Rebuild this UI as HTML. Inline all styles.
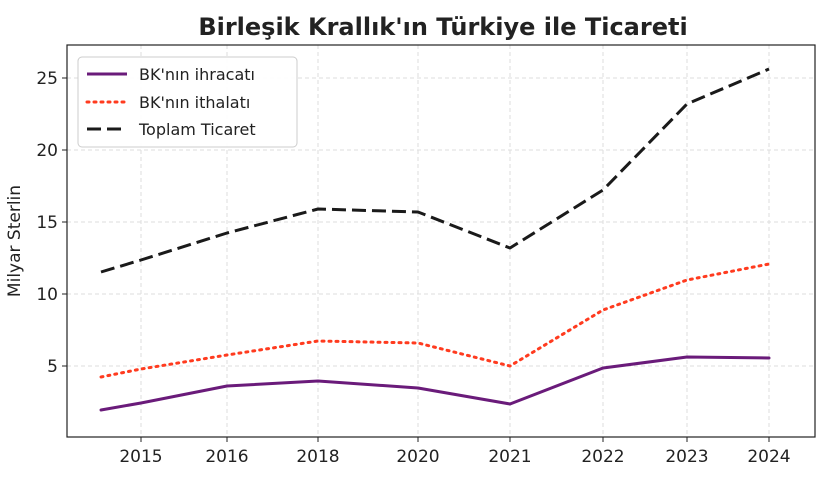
<!DOCTYPE html>
<html><head><meta charset="utf-8"><style>
html,body{margin:0;padding:0;background:#fff;}
svg{display:block;font-family:"DejaVu Sans","Liberation Sans",sans-serif;}
</style></head><body>
<svg width="823" height="477" viewBox="0 0 823 477" xmlns="http://www.w3.org/2000/svg">
<rect width="823" height="477" fill="#fff"/>
<text x="443" y="35" text-anchor="middle" font-size="24" font-weight="bold" fill="#222">Birleşik Krallık'ın Türkiye ile Ticareti</text>
<g stroke="#ddd" stroke-dasharray="4,3" stroke-width="1">
<line x1="141" y1="45" x2="141" y2="437"/><line x1="227" y1="45" x2="227" y2="437"/>
<line x1="318" y1="45" x2="318" y2="437"/><line x1="418" y1="45" x2="418" y2="437"/>
<line x1="510" y1="45" x2="510" y2="437"/><line x1="603" y1="45" x2="603" y2="437"/>
<line x1="687" y1="45" x2="687" y2="437"/><line x1="769" y1="45" x2="769" y2="437"/>
<line x1="67" y1="78" x2="815" y2="78"/><line x1="67" y1="150" x2="815" y2="150"/>
<line x1="67" y1="222" x2="815" y2="222"/><line x1="67" y1="294" x2="815" y2="294"/>
<line x1="67" y1="366" x2="815" y2="366"/>
</g>
<rect x="67" y="45" width="748" height="392" fill="none" stroke="#222" stroke-width="1.2"/>
<g stroke="#222" stroke-width="1">
<line x1="62" y1="78" x2="67" y2="78"/><line x1="62" y1="150" x2="67" y2="150"/><line x1="62" y1="222" x2="67" y2="222"/><line x1="62" y1="294" x2="67" y2="294"/><line x1="62" y1="366" x2="67" y2="366"/>
<line x1="141" y1="437" x2="141" y2="442"/><line x1="227" y1="437" x2="227" y2="442"/><line x1="318" y1="437" x2="318" y2="442"/><line x1="418" y1="437" x2="418" y2="442"/><line x1="510" y1="437" x2="510" y2="442"/><line x1="603" y1="437" x2="603" y2="442"/><line x1="687" y1="437" x2="687" y2="442"/><line x1="769" y1="437" x2="769" y2="442"/>
</g>
<g font-size="17" fill="#222" text-anchor="end">
<text x="58" y="84">25</text><text x="58" y="156">20</text><text x="58" y="228">15</text><text x="58" y="300">10</text><text x="58" y="372">5</text>
</g>
<g font-size="17" fill="#222" text-anchor="middle">
<text x="141" y="462">2015</text><text x="227" y="462">2016</text><text x="318" y="462">2018</text><text x="418" y="462">2020</text><text x="510" y="462">2021</text><text x="603" y="462">2022</text><text x="687" y="462">2023</text><text x="769" y="462">2024</text>
</g>
<text transform="translate(20,241) rotate(-90)" text-anchor="middle" font-size="17" fill="#222">Milyar Sterlin</text>
<g fill="none" stroke-linejoin="round" stroke-linecap="round">
<polyline stroke="#6a1b7a" stroke-width="3" points="101,410 141,403 227,386 318,381 418,388 510,404 603,368 687,357 769,358"/>
<polyline stroke="#ff3b1f" stroke-width="3" stroke-dasharray="2,5" points="101,377 141,369 227,355 318,341 418,343 510,366 603,310 687,280 769,264"/>
<polyline stroke="#1a1a1a" stroke-width="3" stroke-dasharray="14,6" stroke-linecap="butt" points="101,272 141,260 227,233 318,209 418,212 510,248 603,190 687,104 769,69"/>
</g>
<rect x="78" y="57" width="219" height="90" rx="4" fill="#fff" fill-opacity="0.9" stroke="#ccc"/>
<line x1="87" y1="74" x2="127" y2="74" stroke="#6a1b7a" stroke-width="3"/>
<line x1="87" y1="102" x2="127" y2="102" stroke="#ff3b1f" stroke-width="3" stroke-dasharray="2,5" stroke-linecap="round"/>
<line x1="87" y1="129" x2="127" y2="129" stroke="#1a1a1a" stroke-width="3" stroke-dasharray="14,6"/>
<g font-size="16" fill="#222">
<text x="139" y="80">BK'nın ihracatı</text><text x="139" y="108">BK'nın ithalatı</text><text x="139" y="135">Toplam Ticaret</text>
</g>
</svg>
</body></html>
